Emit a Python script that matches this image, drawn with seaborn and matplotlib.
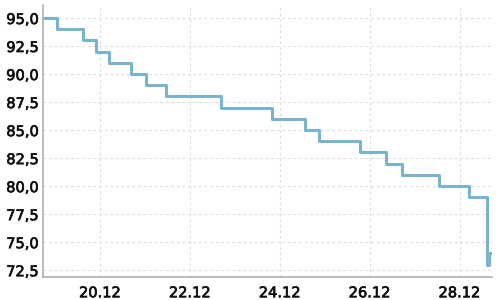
import matplotlib
matplotlib.use("Agg")
import matplotlib.pyplot as plt
import matplotlib.dates as mdates
import matplotlib.patheffects as pe
import seaborn as sns
import pandas as pd

# Step change timestamps and values
times = ["2023-12-18 17:30", "2023-12-19 01:00", "2023-12-19 15:00", "2023-12-19 21:50",
         "2023-12-20 04:50", "2023-12-20 16:30", "2023-12-21 00:30", "2023-12-21 11:10",
         "2023-12-22 16:30", "2023-12-23 19:45", "2023-12-24 13:20", "2023-12-24 20:50",
         "2023-12-25 18:40", "2023-12-26 08:30", "2023-12-26 17:05", "2023-12-27 12:50",
         "2023-12-28 04:50", "2023-12-28 14:25", "2023-12-28 15:30", "2023-12-28 16:50"]
values = [95, 94, 93, 92, 91, 90, 89, 88, 87, 86, 85, 84, 83, 82, 81, 80, 79, 73, 74, 74]
y_ticks = [72.5, 75.0, 77.5, 80.0, 82.5, 85.0, 87.5, 90.0, 92.5, 95.0]

df = pd.DataFrame({"time": pd.to_datetime(times), "value": values})

sns.set_style("white")
plt.rcParams['font.family'] = ['DejaVu Sans']

fig = plt.figure(figsize=(5, 3), dpi=100)
ax = fig.add_axes([0.086, 0.077, 0.898, 0.906])

sns.lineplot(data=df, x="time", y="value", ax=ax, drawstyle="steps-post",
             color="#7ab4cc", linewidth=2.2)

ax.set_xlim(pd.Timestamp("2023-12-18 17:30"), pd.Timestamp("2023-12-28 17:20"))
ax.set_ylim(71.9, 96.15)
ax.set_yticks(y_ticks)
ax.set_yticklabels([f"{v:.1f}".replace(".", ",") for v in y_ticks])
ax.xaxis.set_major_locator(mdates.DayLocator(bymonthday=[20, 22, 24, 26, 28]))
ax.xaxis.set_major_formatter(mdates.DateFormatter("%d.%m"))

ax.set_xlabel("")
ax.set_ylabel("")
ax.grid(True, color="#dddddd", linestyle=(0, (2.5, 2.5)), linewidth=0.8)
for s in ["top", "right"]:
    ax.spines[s].set_visible(False)
for s in ["left", "bottom"]:
    ax.spines[s].set_color("#b0b0b0")
    ax.spines[s].set_linewidth(1.2)
ax.tick_params(axis="x", length=3, color="#999999", labelsize=10.5, pad=3)
ax.tick_params(axis="y", length=0, labelsize=10.5, pad=3)
ax.tick_params(labelcolor="#111111")
for lbl in ax.get_xticklabels() + ax.get_yticklabels():
    lbl.set_path_effects([pe.withStroke(linewidth=0.5, foreground="#111111")])

fig.savefig("out.png", dpi=100)
